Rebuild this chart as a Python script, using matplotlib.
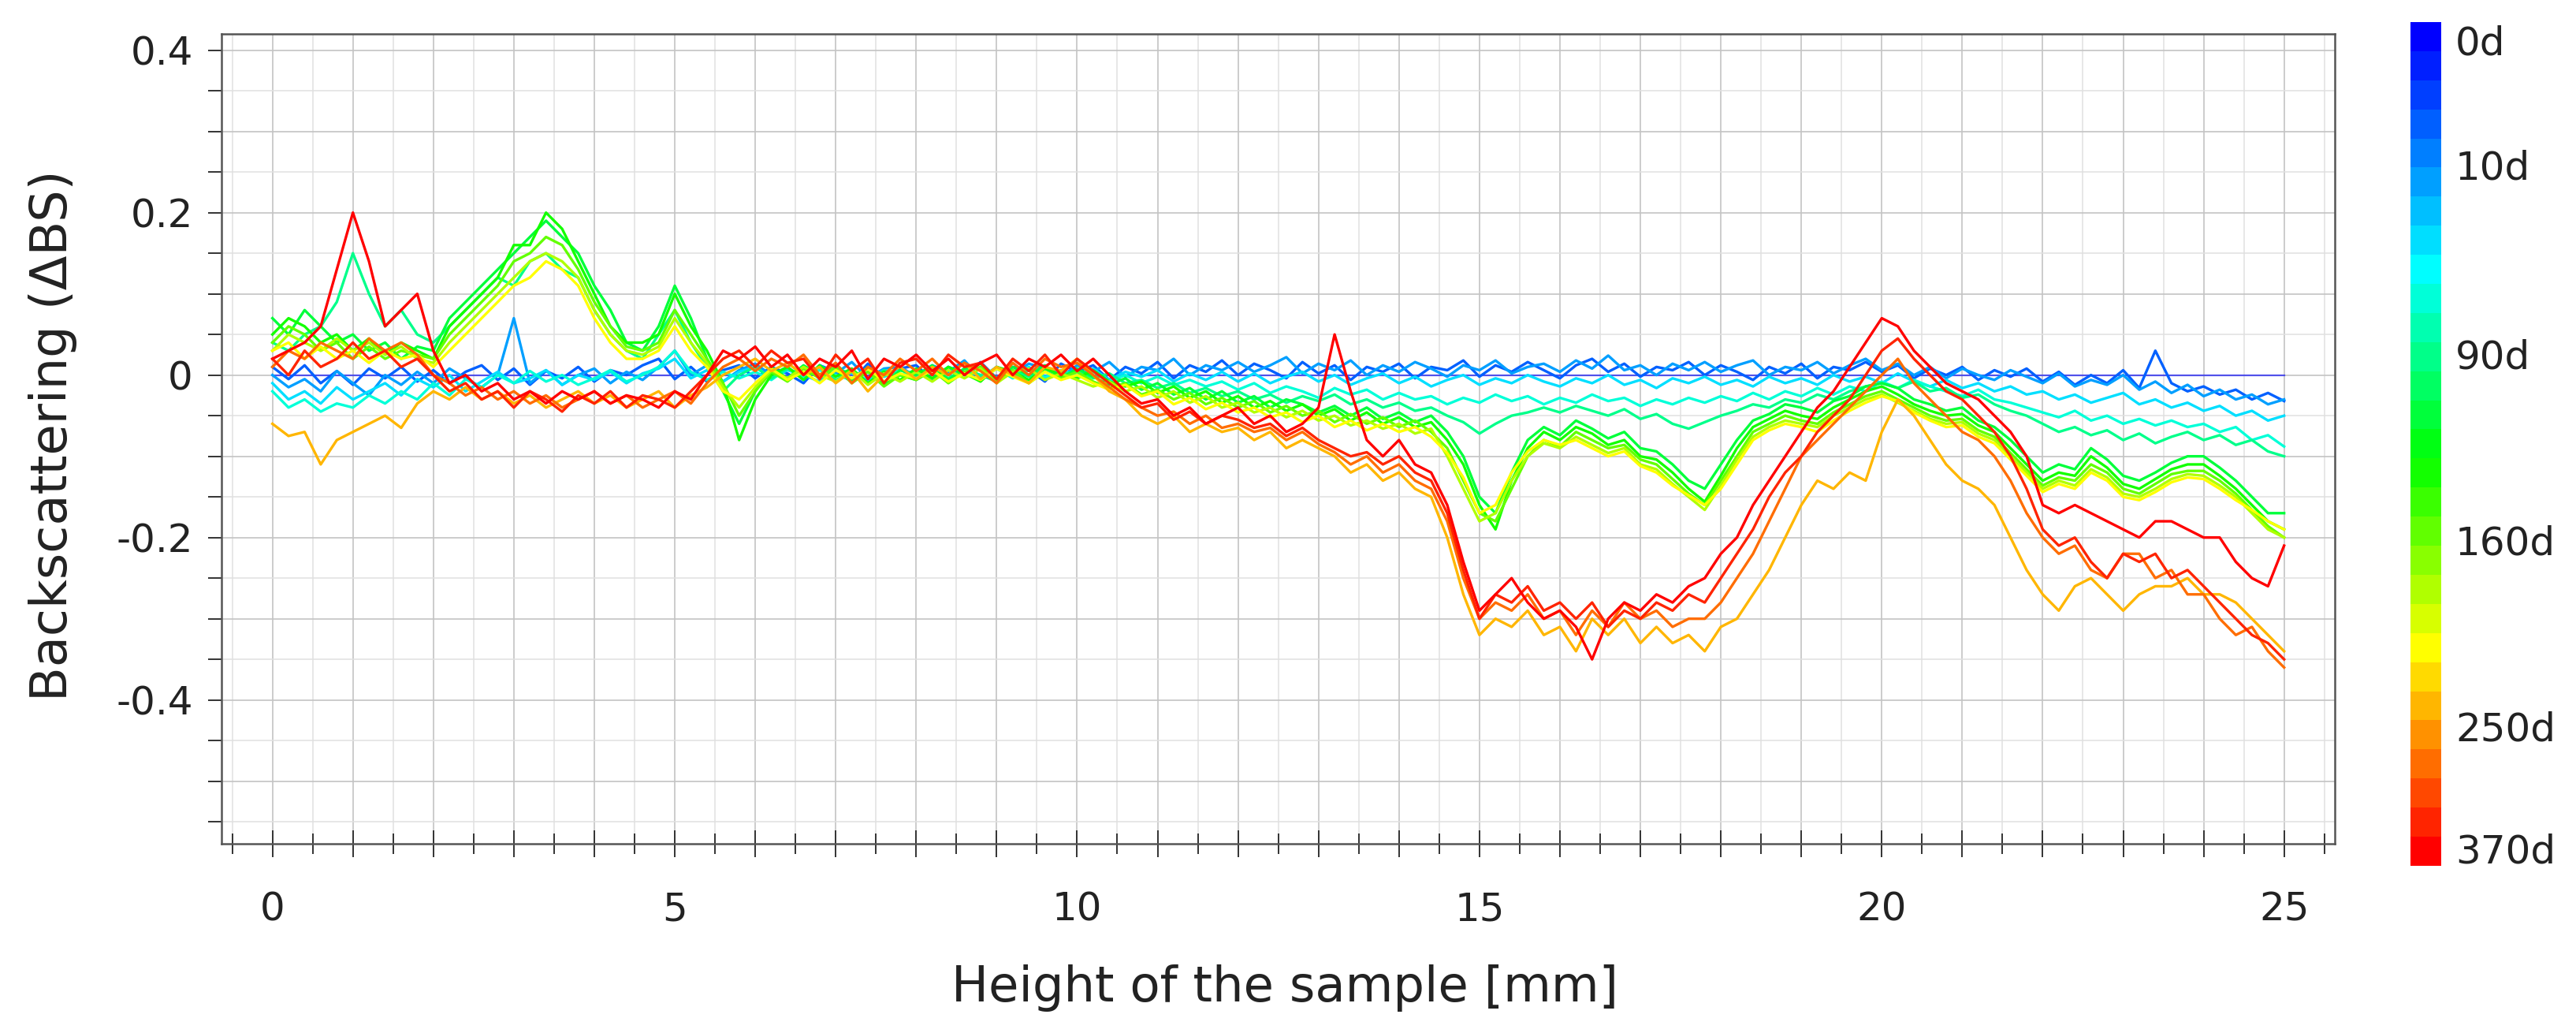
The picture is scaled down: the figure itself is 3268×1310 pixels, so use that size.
import numpy as np
import matplotlib
matplotlib.use("Agg")
import matplotlib.pyplot as plt
from matplotlib.colors import LinearSegmentedColormap
from matplotlib.ticker import MultipleLocator, FuncFormatter

plt.rcParams['font.family'] = ['DejaVu Sans']

# ---------------- data ----------------
HEIGHT_MM = [round(0.2 * i, 1) for i in range(126)]   # measurement positions, 0 .. 25 mm

REF_HEIGHT = [0.0, 25.0]
BS_0D = [0.0, 0.0]                                     # reference scan (0 d) = 0 everywhere

BS_S03 = [0.01, -0.005, 0.012, -0.01, 0.005, -0.012, 0.008, -0.004, 0.01, -0.008,
          0.006, -0.01, 0.004, 0.012, -0.006, 0.008, -0.012, 0.005, -0.004, 0.01,
          -0.008, 0.006, 0.0, 0.012, 0.02, -0.005, 0.01, -0.008, 0.006, 0.012,
          -0.004, 0.01, 0.002, -0.01, 0.012, 0.004, -0.008, 0.014, -0.002, 0.008,
          0.012, -0.006, 0.01, 0.0, 0.016, -0.004, 0.01, 0.006, -0.008, 0.014,
          0.004, 0.012, -0.006, 0.01, 0.002, 0.016, -0.004, 0.012, 0.004, 0.018,
          0.0, 0.014, 0.006, -0.004, 0.016, 0.002, 0.012, -0.006, 0.01, 0.004,
          0.014, -0.004, 0.01, 0.006, 0.018, -0.002, 0.012, 0.004, 0.016, 0.006,
          -0.004, 0.012, 0.02, 0.004, 0.014, -0.002, 0.01, 0.006, 0.016, 0.0,
          0.012, 0.004, -0.006, 0.01, 0.002, 0.014, -0.004, 0.01, 0.006, 0.016,
          0.004, 0.012, -0.004, 0.008, 0.0, 0.01, -0.006, 0.006, -0.002, 0.008,
          -0.008, 0.004, -0.012, 0.0, -0.01, 0.006, -0.016, 0.03, -0.01, -0.02,
          -0.014, -0.024, -0.018, -0.03, -0.022, -0.032]

BS_S05 = [0.0, -0.015, -0.005, -0.02, 0.005, -0.01, -0.025, 0.0, -0.012, 0.004,
          -0.01, 0.008, -0.004, -0.015, 0.0, 0.07, -0.01, 0.006, -0.012, 0.0,
          0.008, -0.01, 0.004, -0.006, 0.01, 0.03, 0.0, 0.012, -0.008, 0.006,
          0.014, 0.0, 0.01, -0.006, 0.012, 0.002, 0.016, -0.004, 0.008, 0.01,
          -0.002, 0.012, 0.004, 0.018, -0.004, 0.01, 0.002, 0.014, 0.008, -0.002,
          0.012, 0.004, 0.016, -0.002, 0.01, 0.006, 0.02, 0.0, 0.012, 0.006,
          0.016, 0.004, 0.012, 0.022, 0.002, 0.014, 0.006, 0.018, 0.0, 0.012,
          0.004, 0.016, 0.008, -0.002, 0.012, 0.006, 0.018, 0.002, 0.01, 0.014,
          0.004, 0.018, 0.008, 0.024, 0.006, 0.012, 0.0, 0.014, 0.006, 0.016,
          0.004, 0.012, 0.018, 0.0, 0.01, 0.006, 0.016, 0.002, 0.012, 0.02,
          0.006, 0.014, 0.0, 0.01, -0.004, 0.008, 0.0, -0.006, 0.006, -0.002,
          -0.01, 0.002, -0.014, -0.006, -0.012, 0.0, -0.018, -0.008, -0.022, -0.012,
          -0.026, -0.018, -0.03, -0.024, -0.036, -0.03]

BS_S07 = [-0.01, -0.03, -0.02, -0.035, -0.015, -0.03, -0.02, -0.01, -0.025, -0.005,
          -0.015, 0.0, -0.02, -0.008, 0.004, -0.01, -0.004, 0.006, -0.012, 0.0,
          -0.006, 0.004, -0.01, 0.002, 0.008, 0.02, -0.004, 0.006, -0.008, 0.004,
          0.01, -0.004, 0.006, 0.0, -0.008, 0.008, 0.002, -0.006, 0.006, 0.0,
          0.006, -0.004, 0.01, 0.002, -0.006, 0.008, 0.0, 0.01, -0.004, 0.006,
          0.0, 0.008, -0.006, 0.004, -0.002, 0.006, -0.008, 0.002, -0.006, 0.004,
          -0.008, 0.002, -0.01, -0.002, 0.004, -0.008, 0.0, -0.012, -0.004, 0.002,
          -0.01, -0.002, -0.014, -0.006, 0.0, -0.012, -0.004, -0.01, 0.0, -0.008,
          -0.014, -0.004, -0.01, 0.0, -0.012, -0.006, -0.016, -0.004, -0.01, -0.002,
          -0.012, -0.006, -0.014, -0.002, -0.01, -0.004, -0.012, 0.0, -0.008, -0.002,
          -0.01, 0.002, -0.008, -0.014, -0.006, -0.016, -0.01, -0.02, -0.014, -0.024,
          -0.02, -0.03, -0.024, -0.034, -0.028, -0.022, -0.036, -0.03, -0.04, -0.034,
          -0.044, -0.038, -0.05, -0.044, -0.056, -0.05]

BS_S09 = [-0.02, -0.04, -0.03, -0.045, -0.035, -0.04, -0.025, -0.035, -0.02, -0.03,
          -0.01, -0.025, -0.005, -0.015, 0.0, -0.01, 0.005, -0.008, 0.0, -0.012,
          -0.004, 0.006, -0.008, 0.0, 0.01, 0.03, 0.004, -0.006, 0.004, -0.004,
          0.004, -0.006, 0.008, -0.002, 0.006, 0.0, -0.006, 0.004, -0.002, 0.006,
          0.0, 0.008, -0.004, 0.004, 0.0, 0.008, -0.004, 0.006, -0.002, 0.004,
          -0.004, 0.004, -0.008, 0.0, -0.01, -0.002, -0.012, -0.006, -0.014, -0.008,
          -0.018, -0.01, -0.022, -0.014, -0.02, -0.028, -0.016, -0.024, -0.018, -0.03,
          -0.022, -0.03, -0.026, -0.036, -0.028, -0.034, -0.024, -0.032, -0.026, -0.036,
          -0.028, -0.034, -0.024, -0.032, -0.028, -0.038, -0.03, -0.036, -0.028, -0.034,
          -0.026, -0.032, -0.022, -0.03, -0.02, -0.026, -0.016, -0.024, -0.014, -0.02,
          -0.008, -0.016, -0.006, -0.014, -0.02, -0.026, -0.018, -0.03, -0.034, -0.04,
          -0.046, -0.052, -0.044, -0.056, -0.05, -0.06, -0.054, -0.062, -0.056, -0.064,
          -0.06, -0.07, -0.064, -0.08, -0.074, -0.088]

BS_S11 = [0.04, 0.03, 0.05, 0.06, 0.09, 0.15, 0.1, 0.06, 0.08, 0.05,
          0.04, 0.06, 0.08, 0.1, 0.12, 0.11, 0.14, 0.15, 0.13, 0.12,
          0.08, 0.05, 0.03, 0.02, 0.05, 0.08, 0.04, 0.01, -0.02, 0.0,
          0.01, -0.004, 0.008, 0.0, 0.01, -0.006, 0.004, -0.01, 0.006, 0.0,
          -0.006, 0.006, -0.004, 0.008, 0.0, -0.008, 0.006, -0.002, 0.008, 0.0,
          0.006, -0.004, 0.002, -0.01, -0.006, -0.016, -0.01, -0.022, -0.016, -0.026,
          -0.02, -0.03, -0.024, -0.034, -0.026, -0.032, -0.024, -0.036, -0.03, -0.04,
          -0.034, -0.044, -0.04, -0.05, -0.058, -0.072, -0.06, -0.05, -0.046, -0.04,
          -0.046, -0.038, -0.044, -0.05, -0.042, -0.054, -0.048, -0.06, -0.066, -0.058,
          -0.05, -0.044, -0.036, -0.04, -0.03, -0.034, -0.024, -0.03, -0.02, -0.014,
          -0.01, -0.016, -0.008, -0.02, -0.016, -0.028, -0.024, -0.036, -0.044, -0.05,
          -0.06, -0.07, -0.064, -0.074, -0.068, -0.08, -0.072, -0.084, -0.076, -0.07,
          -0.08, -0.074, -0.086, -0.08, -0.094, -0.1]

BS_S13 = [0.07, 0.05, 0.08, 0.06, 0.04, 0.05, 0.03, 0.04, 0.02, 0.035,
          0.03, 0.07, 0.09, 0.11, 0.13, 0.15, 0.17, 0.19, 0.17, 0.15,
          0.11, 0.08, 0.04, 0.03, 0.06, 0.11, 0.07, 0.02, -0.02, -0.06,
          -0.02, 0.01, -0.004, 0.012, 0.0, 0.014, -0.006, 0.01, -0.012, 0.006,
          0.0, 0.012, -0.006, 0.008, 0.014, -0.004, 0.01, 0.0, 0.012, -0.004,
          0.008, -0.002, -0.012, -0.004, -0.018, -0.01, -0.024, -0.016, -0.03, -0.02,
          -0.034, -0.026, -0.04, -0.03, -0.036, -0.046, -0.038, -0.05, -0.04, -0.054,
          -0.046, -0.058, -0.05, -0.07, -0.1, -0.15, -0.17, -0.12, -0.08, -0.064,
          -0.074, -0.056, -0.066, -0.078, -0.07, -0.09, -0.094, -0.11, -0.13, -0.14,
          -0.11, -0.08, -0.056, -0.048, -0.036, -0.04, -0.046, -0.032, -0.026, -0.014,
          -0.01, -0.016, -0.03, -0.036, -0.044, -0.04, -0.056, -0.064, -0.08, -0.1,
          -0.12, -0.11, -0.116, -0.09, -0.104, -0.124, -0.13, -0.12, -0.108, -0.1,
          -0.1, -0.114, -0.13, -0.15, -0.17, -0.17]

BS_S15 = [0.05, 0.07, 0.06, 0.04, 0.05, 0.03, 0.045, 0.025, 0.04, 0.03,
          0.02, 0.06, 0.08, 0.1, 0.12, 0.16, 0.16, 0.2, 0.18, 0.14,
          0.1, 0.06, 0.04, 0.04, 0.05, 0.1, 0.06, 0.03, -0.01, -0.08,
          -0.03, 0.0, 0.01, -0.006, 0.012, -0.002, 0.008, -0.01, 0.004, -0.006,
          0.008, -0.004, 0.01, 0.002, -0.008, 0.01, 0.004, -0.006, 0.008, 0.0,
          -0.004, 0.006, -0.008, -0.014, -0.008, -0.022, -0.014, -0.028, -0.02, -0.034,
          -0.026, -0.04, -0.032, -0.044, -0.036, -0.05, -0.042, -0.056, -0.046, -0.06,
          -0.052, -0.064, -0.058, -0.08, -0.11, -0.16, -0.19, -0.13, -0.09, -0.07,
          -0.08, -0.064, -0.072, -0.086, -0.08, -0.1, -0.104, -0.12, -0.14, -0.156,
          -0.124, -0.09, -0.064, -0.054, -0.044, -0.05, -0.054, -0.04, -0.03, -0.02,
          -0.014, -0.024, -0.036, -0.044, -0.05, -0.048, -0.062, -0.07, -0.09, -0.11,
          -0.13, -0.12, -0.124, -0.1, -0.114, -0.134, -0.14, -0.128, -0.116, -0.11,
          -0.11, -0.124, -0.14, -0.16, -0.18, -0.19]

BS_S17 = [0.04, 0.06, 0.05, 0.03, 0.04, 0.02, 0.035, 0.02, 0.03, 0.025,
          0.02, 0.05, 0.07, 0.09, 0.11, 0.14, 0.15, 0.17, 0.16, 0.13,
          0.09, 0.06, 0.035, 0.03, 0.04, 0.08, 0.05, 0.02, -0.01, -0.05,
          -0.02, 0.004, -0.008, 0.008, -0.004, 0.01, -0.01, 0.004, -0.014, 0.0,
          -0.006, 0.006, -0.01, 0.004, 0.01, -0.006, 0.006, -0.01, 0.004, -0.004,
          0.004, -0.008, -0.016, -0.01, -0.024, -0.018, -0.03, -0.022, -0.036, -0.028,
          -0.04, -0.032, -0.046, -0.038, -0.05, -0.044, -0.058, -0.048, -0.06, -0.052,
          -0.064, -0.056, -0.07, -0.09, -0.13, -0.17, -0.18, -0.14, -0.1, -0.08,
          -0.088, -0.07, -0.08, -0.09, -0.086, -0.104, -0.11, -0.128, -0.146, -0.16,
          -0.13, -0.1, -0.07, -0.06, -0.05, -0.056, -0.06, -0.046, -0.036, -0.026,
          -0.02, -0.03, -0.04, -0.05, -0.056, -0.054, -0.068, -0.076, -0.096, -0.116,
          -0.136, -0.126, -0.13, -0.11, -0.12, -0.14, -0.146, -0.134, -0.122, -0.118,
          -0.118, -0.13, -0.146, -0.166, -0.186, -0.2]

BS_S19 = [0.03, 0.05, 0.04, 0.03, 0.045, 0.03, 0.04, 0.025, 0.035, 0.02,
          0.015, 0.04, 0.06, 0.08, 0.1, 0.12, 0.14, 0.15, 0.14, 0.12,
          0.08, 0.05, 0.03, 0.025, 0.035, 0.07, 0.04, 0.015, -0.015, -0.04,
          -0.015, 0.006, -0.004, 0.01, 0.0, -0.008, 0.006, -0.012, 0.002, -0.008,
          0.004, -0.008, 0.006, -0.004, 0.008, -0.01, 0.004, 0.008, -0.006, 0.002,
          -0.006, -0.014, -0.008, -0.02, -0.014, -0.028, -0.02, -0.034, -0.026, -0.04,
          -0.034, -0.046, -0.04, -0.052, -0.044, -0.056, -0.05, -0.062, -0.056, -0.066,
          -0.06, -0.072, -0.066, -0.1, -0.14, -0.18, -0.17, -0.13, -0.1, -0.084,
          -0.09, -0.076, -0.086, -0.096, -0.09, -0.11, -0.116, -0.134, -0.15, -0.166,
          -0.136, -0.104, -0.076, -0.064, -0.056, -0.06, -0.064, -0.05, -0.04, -0.03,
          -0.024, -0.034, -0.044, -0.054, -0.06, -0.058, -0.072, -0.08, -0.1, -0.12,
          -0.14, -0.13, -0.136, -0.116, -0.126, -0.146, -0.15, -0.14, -0.128, -0.122,
          -0.124, -0.136, -0.15, -0.17, -0.19, -0.2]

BS_S21 = [0.03, 0.04, 0.02, 0.035, 0.02, 0.03, 0.015, 0.03, 0.02, 0.025,
          0.01, 0.03, 0.05, 0.07, 0.09, 0.11, 0.12, 0.14, 0.13, 0.11,
          0.07, 0.04, 0.02, 0.02, 0.03, 0.06, 0.03, 0.01, -0.02, -0.03,
          -0.01, 0.008, -0.006, 0.004, -0.01, 0.006, -0.004, 0.008, -0.008, 0.002,
          -0.004, 0.006, -0.008, 0.002, -0.006, 0.008, -0.002, -0.01, 0.004, -0.006,
          0.0, -0.01, -0.018, -0.012, -0.026, -0.02, -0.036, -0.028, -0.042, -0.034,
          -0.046, -0.04, -0.052, -0.046, -0.058, -0.05, -0.064, -0.056, -0.068, -0.06,
          -0.07, -0.064, -0.076, -0.096, -0.126, -0.17, -0.16, -0.12, -0.094, -0.08,
          -0.086, -0.08, -0.09, -0.1, -0.094, -0.112, -0.12, -0.136, -0.148, -0.16,
          -0.14, -0.11, -0.08, -0.068, -0.06, -0.064, -0.07, -0.056, -0.044, -0.034,
          -0.026, -0.032, -0.046, -0.056, -0.064, -0.062, -0.076, -0.084, -0.104, -0.124,
          -0.144, -0.134, -0.14, -0.12, -0.13, -0.15, -0.154, -0.144, -0.132, -0.126,
          -0.128, -0.14, -0.154, -0.166, -0.18, -0.19]

BS_S23 = [-0.06, -0.075, -0.07, -0.11, -0.08, -0.07, -0.06, -0.05, -0.065, -0.035,
          -0.02, -0.03, -0.015, -0.03, -0.02, -0.035, -0.025, -0.04, -0.03, -0.02,
          -0.035, -0.025, -0.04, -0.03, -0.02, -0.04, -0.025, -0.015, 0.0, 0.01,
          0.02, 0.005, 0.015, 0.0, 0.01, -0.01, 0.005, -0.02, 0.0, 0.01,
          -0.005, 0.01, 0.0, 0.015, -0.005, 0.01, 0.0, -0.01, 0.01, 0.005,
          0.02, 0.0, -0.02, -0.03, -0.05, -0.06, -0.05, -0.07, -0.06, -0.07,
          -0.065, -0.08, -0.07, -0.09, -0.08, -0.09, -0.1, -0.12, -0.11, -0.13,
          -0.12, -0.14, -0.15, -0.2, -0.27, -0.32, -0.3, -0.31, -0.29, -0.32,
          -0.31, -0.34, -0.3, -0.32, -0.3, -0.33, -0.31, -0.33, -0.32, -0.34,
          -0.31, -0.3, -0.27, -0.24, -0.2, -0.16, -0.13, -0.14, -0.12, -0.13,
          -0.07, -0.03, -0.05, -0.08, -0.11, -0.13, -0.14, -0.16, -0.2, -0.24,
          -0.27, -0.29, -0.26, -0.25, -0.27, -0.29, -0.27, -0.26, -0.26, -0.25,
          -0.27, -0.27, -0.28, -0.3, -0.32, -0.34]

BS_S25 = [0.01, 0.03, 0.02, 0.04, 0.03, 0.02, 0.045, 0.03, 0.04, 0.025,
          0.0, -0.01, -0.025, -0.015, -0.03, -0.02, -0.035, -0.025, -0.04, -0.03,
          -0.02, -0.035, -0.025, -0.04, -0.03, -0.02, -0.035, -0.01, 0.01, 0.02,
          0.005, 0.02, 0.01, 0.025, 0.0, 0.015, -0.01, 0.01, 0.0, 0.02,
          0.005, 0.02, 0.0, 0.015, 0.005, -0.01, 0.015, 0.0, 0.02, 0.01,
          0.015, 0.0, -0.015, -0.03, -0.04, -0.05, -0.045, -0.06, -0.05, -0.065,
          -0.06, -0.07, -0.065, -0.08, -0.07, -0.085, -0.095, -0.11, -0.1, -0.12,
          -0.11, -0.13, -0.14, -0.18, -0.25, -0.3, -0.28, -0.29, -0.27, -0.3,
          -0.29, -0.32, -0.29, -0.31, -0.28, -0.3, -0.29, -0.31, -0.3, -0.3,
          -0.28, -0.25, -0.22, -0.18, -0.14, -0.1, -0.08, -0.06, -0.04, -0.02,
          0.0, 0.02, -0.01, -0.03, -0.05, -0.07, -0.08, -0.1, -0.13, -0.17,
          -0.2, -0.22, -0.21, -0.24, -0.25, -0.22, -0.22, -0.25, -0.24, -0.27,
          -0.27, -0.3, -0.32, -0.31, -0.34, -0.36]

BS_S27 = [0.02, 0.0, 0.03, 0.01, 0.02, 0.04, 0.02, 0.03, 0.01, 0.02,
          0.0, -0.02, -0.01, -0.03, -0.02, -0.04, -0.02, -0.03, -0.045, -0.025,
          -0.035, -0.02, -0.04, -0.025, -0.03, -0.04, -0.02, 0.0, 0.02, 0.03,
          0.01, 0.03, 0.015, 0.02, -0.005, 0.025, 0.005, 0.02, -0.01, 0.015,
          0.02, 0.0, 0.025, 0.01, 0.015, -0.005, 0.02, 0.005, 0.025, 0.0,
          0.02, 0.005, -0.01, -0.025, -0.04, -0.035, -0.055, -0.045, -0.06, -0.05,
          -0.055, -0.065, -0.06, -0.075, -0.065, -0.08, -0.09, -0.1, -0.095, -0.11,
          -0.1, -0.12, -0.13, -0.17, -0.24, -0.3, -0.27, -0.28, -0.26, -0.29,
          -0.28, -0.3, -0.28, -0.31, -0.29, -0.3, -0.28, -0.29, -0.27, -0.28,
          -0.25, -0.22, -0.19, -0.15, -0.12, -0.1, -0.07, -0.05, -0.03, 0.0,
          0.03, 0.045, 0.02, 0.0, -0.02, -0.03, -0.05, -0.07, -0.1, -0.14,
          -0.19, -0.21, -0.2, -0.23, -0.25, -0.22, -0.23, -0.22, -0.25, -0.24,
          -0.26, -0.28, -0.3, -0.32, -0.33, -0.35]

BS_S28 = [0.02, 0.03, 0.04, 0.06, 0.13, 0.2, 0.14, 0.06, 0.08, 0.1,
          0.03, -0.01, 0.0, -0.02, -0.01, -0.03, -0.02, -0.035, -0.02, -0.03,
          -0.02, -0.035, -0.025, -0.03, -0.04, -0.02, -0.03, 0.0, 0.03, 0.02,
          0.035, 0.01, 0.025, 0.0, 0.02, 0.01, 0.03, -0.005, 0.02, 0.01,
          0.025, 0.005, 0.02, 0.0, 0.015, 0.025, 0.0, 0.02, 0.01, 0.025,
          0.005, 0.02, 0.0, -0.02, -0.035, -0.03, -0.05, -0.04, -0.06, -0.05,
          -0.04, -0.06, -0.05, -0.07, -0.06, -0.04, 0.05, -0.02, -0.08, -0.1,
          -0.08, -0.11, -0.12, -0.16, -0.23, -0.29, -0.27, -0.25, -0.28, -0.3,
          -0.29, -0.31, -0.35, -0.3, -0.28, -0.29, -0.27, -0.28, -0.26, -0.25,
          -0.22, -0.2, -0.16, -0.13, -0.1, -0.07, -0.04, -0.02, 0.01, 0.04,
          0.07, 0.06, 0.03, 0.01, -0.01, -0.02, -0.03, -0.05, -0.07, -0.1,
          -0.16, -0.17, -0.16, -0.17, -0.18, -0.19, -0.2, -0.18, -0.18, -0.19,
          -0.2, -0.2, -0.23, -0.25, -0.26, -0.21]

# scan number (0 .. 28) of every plotted profile -> colour on the time scale
SCAN_NUMBERS = [3, 5, 7, 9, 11, 13, 15, 17, 19, 21, 23, 25, 27, 28]
SCAN_PROFILES = [BS_S03, BS_S05, BS_S07, BS_S09, BS_S11, BS_S13, BS_S15,
                 BS_S17, BS_S19, BS_S21, BS_S23, BS_S25, BS_S27, BS_S28]
N_SCANS = 29

CBAR_LABELS = ['0d', '10d', '90d', '160d', '250d', '370d']
CBAR_LABEL_SCAN = [0.1, 4.4, 10.9, 17.3, 23.7, 27.9]

# ---------------- style ----------------
W, H = 3268, 1310
DPI = 100
fig = plt.figure(figsize=(W / DPI, H / DPI), dpi=DPI, facecolor='white')

cmap = LinearSegmentedColormap.from_list(
    'scan', [(0.0, '#0000ff'), (0.286, '#00ffff'), (0.518, '#00ff00'),
             (0.75, '#ffff00'), (1.0, '#ff0000')], N=N_SCANS)

ax = fig.add_axes([281 / W, 1 - 1070 / H, (2962 - 281) / W, (1070 - 43) / H])
ax.set_xlim(-0.633, 25.63)
ax.set_ylim(-0.577, 0.420)

ax.xaxis.set_major_locator(MultipleLocator(1.0))
ax.xaxis.set_minor_locator(MultipleLocator(0.5))
ax.yaxis.set_major_locator(MultipleLocator(0.1))
ax.yaxis.set_minor_locator(MultipleLocator(0.05))

ax.grid(which='major', color='#c4c4c4', linewidth=1.2, zorder=0)
ax.grid(which='minor', color='#e0e0e0', linewidth=1.1, zorder=0)
ax.set_axisbelow(True)

def xfmt(v, pos):
    r = round(v)
    if abs(v - r) < 1e-6 and r % 5 == 0 and 0 <= r <= 25:
        return '%d' % r
    return ''

def yfmt(v, pos):
    r = round(v * 10)
    if abs(v * 10 - r) < 1e-6 and r % 2 == 0:
        return '0' if r == 0 else '%.1f' % (r / 10)
    return ''

ax.xaxis.set_major_formatter(FuncFormatter(xfmt))
ax.yaxis.set_major_formatter(FuncFormatter(yfmt))

ax.tick_params(axis='x', which='major', direction='inout', length=25, width=1.4,
               color='#333333', labelsize=36, pad=30, labelcolor='#222222')
ax.tick_params(axis='x', which='minor', direction='inout', length=19, width=1.4,
               color='#333333')
ax.tick_params(axis='y', which='both', direction='out', length=12, width=1.4,
               color='#333333', labelsize=36, pad=14, labelcolor='#222222')

for s in ax.spines.values():
    s.set_color('#555555')
    s.set_linewidth(1.8)

# reference scan
ax.plot(REF_HEIGHT, BS_0D, color=cmap(0), linewidth=1.6, alpha=0.6, zorder=2)

for n, prof in zip(SCAN_NUMBERS, SCAN_PROFILES):
    ax.plot(HEIGHT_MM, prof, color=cmap(n), linewidth=2.4, zorder=3 + n)

fig.text(1630 / W, 1 - 1253 / H, 'Height of the sample [mm]', ha='center',
         va='center', fontsize=45, color='#222222')
fig.text(67 / W, 1 - 552 / H, 'Backscattering (\u0394BS)', ha='center',
         va='center', rotation=90, fontsize=46, color='#222222')

# colour scale
cax = fig.add_axes([3058 / W, 1 - 1098 / H, 39 / W, (1098 - 28) / H])
cax.imshow(np.arange(N_SCANS).reshape(-1, 1), cmap=cmap, aspect='auto',
           extent=(0, 1, N_SCANS - 0.5, -0.5), interpolation='nearest')
cax.set_xlim(0, 1)
cax.set_ylim(N_SCANS - 0.5, -0.5)
cax.set_xticks([])
cax.yaxis.tick_right()
cax.set_yticks(CBAR_LABEL_SCAN)
cax.set_yticklabels(CBAR_LABELS)
cax.tick_params(axis='y', length=0, labelsize=36, pad=13, labelcolor='#222222')
for s in cax.spines.values():
    s.set_visible(False)

fig.savefig('out.png', dpi=DPI, facecolor='white')
